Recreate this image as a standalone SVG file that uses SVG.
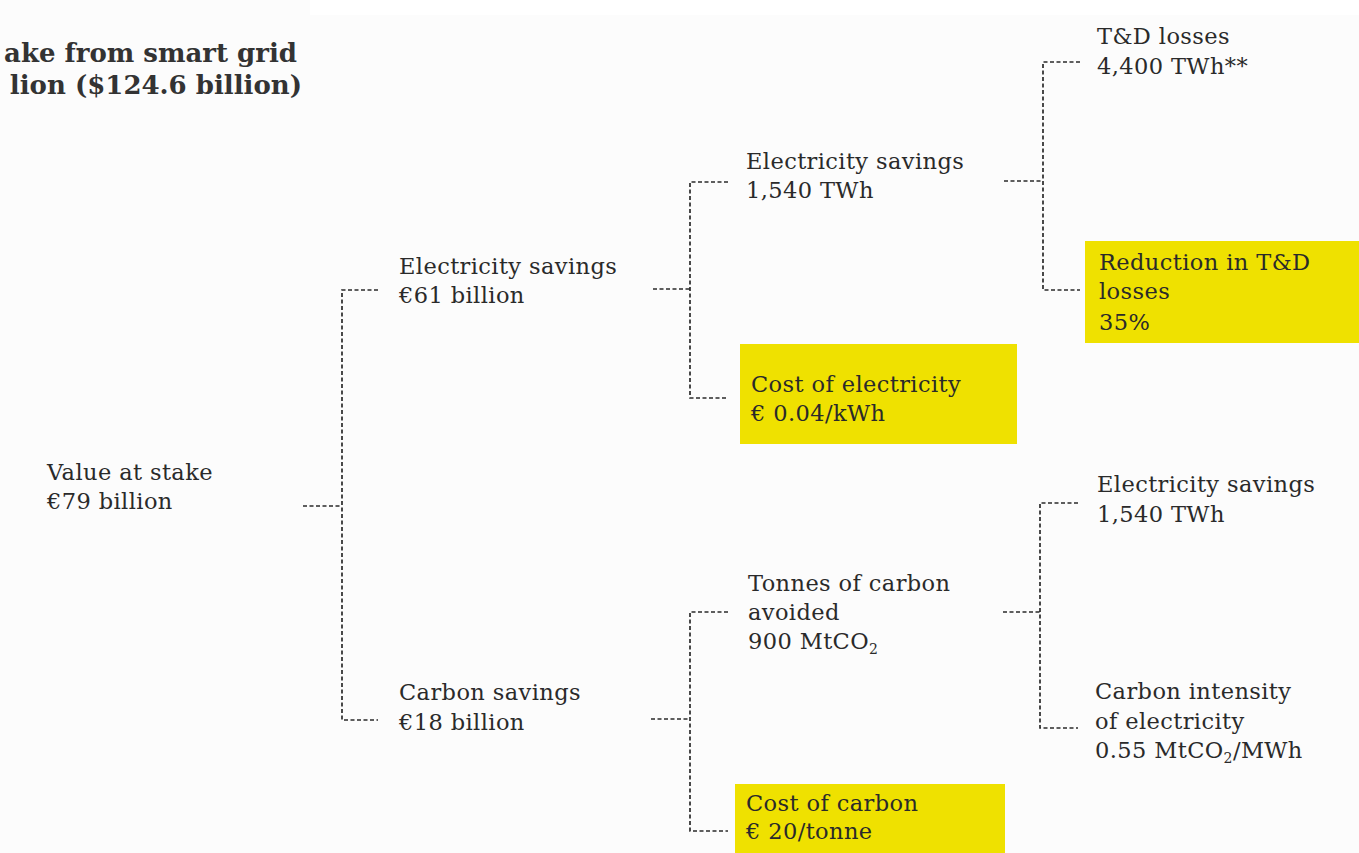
<svg xmlns="http://www.w3.org/2000/svg" width="1359" height="853" viewBox="0 0 1359 853">
<style>
.t{font-family:"DejaVu Serif","Liberation Serif",serif;font-size:22.5px;letter-spacing:0.4px;fill:#2a2a2a}
.title{font-family:"DejaVu Serif","Liberation Serif",serif;font-size:26px;font-weight:bold;fill:#333}
.hl{fill:#efe100}
.c{fill:none;stroke:#2a2a2a;stroke-width:1.7;stroke-dasharray:4 2.5}
.sub{font-size:14px}
</style>
<rect width="1359" height="853" fill="#fcfcfc"/>
<rect x="310" y="0" width="1049" height="15" fill="#ffffff"/>
<g id="title">
<text class="title" x="297" y="62" text-anchor="end">ake from smart grid</text>
<text class="title" x="302" y="94" text-anchor="end">lion ($124.6 billion)</text>
</g>
<g id="connectors">
<path class="c" d="M303,506 H342 M378,290 H342 V720 H378"/>
<path class="c" d="M653,289 H690 M728,182 H690 V398 H728"/>
<path class="c" d="M1004,181 H1043 M1080,62 H1043 V290 H1080"/>
<path class="c" d="M651,719 H690 M728,612 H690 V831 H728"/>
<path class="c" d="M1003,612 H1040 M1078,503 H1040 V728 H1078"/>
</g>
<g id="value-at-stake">
<text class="t" x="47" y="480">Value at stake</text>
<text class="t" x="47" y="509">€79 billion</text>
</g>
<g id="electricity-savings-61">
<text class="t" x="399" y="274">Electricity savings</text>
<text class="t" x="399" y="303">€61 billion</text>
</g>
<g id="carbon-savings-18">
<text class="t" x="399" y="700">Carbon savings</text>
<text class="t" x="399" y="730">€18 billion</text>
</g>
<g id="electricity-savings-twh">
<text class="t" x="746" y="169">Electricity savings</text>
<text class="t" x="746" y="198">1,540 TWh</text>
</g>
<g id="cost-of-electricity">
<rect class="hl" x="740" y="344" width="277" height="100"/>
<text class="t" x="751" y="392">Cost of electricity</text>
<text class="t" x="751" y="421">€ 0.04/kWh</text>
</g>
<g id="td-losses">
<text class="t" x="1097" y="44">T&amp;D losses</text>
<text class="t" x="1097" y="74">4,400 TWh**</text>
</g>
<g id="reduction-td-losses">
<rect class="hl" x="1085" y="241" width="274" height="102"/>
<text class="t" x="1099" y="270">Reduction in T&amp;D</text>
<text class="t" x="1099" y="299">losses</text>
<text class="t" x="1099" y="330">35%</text>
</g>
<g id="tonnes-of-carbon">
<text class="t" x="748" y="591">Tonnes of carbon</text>
<text class="t" x="748" y="620">avoided</text>
<text class="t" x="748" y="649">900 MtCO<tspan class="sub" dy="5">2</tspan></text>
</g>
<g id="cost-of-carbon">
<rect class="hl" x="735" y="784" width="270" height="69"/>
<text class="t" x="746" y="811">Cost of carbon</text>
<text class="t" x="746" y="839">€ 20/tonne</text>
</g>
<g id="electricity-savings-twh-2">
<text class="t" x="1097" y="492">Electricity savings</text>
<text class="t" x="1097" y="522">1,540 TWh</text>
</g>
<g id="carbon-intensity">
<text class="t" x="1095" y="699">Carbon intensity</text>
<text class="t" x="1095" y="729">of electricity</text>
<text class="t" x="1095" y="758">0.55 MtCO<tspan class="sub" dy="5">2</tspan><tspan dy="-5">/MWh</tspan></text>
</g>
</svg>
